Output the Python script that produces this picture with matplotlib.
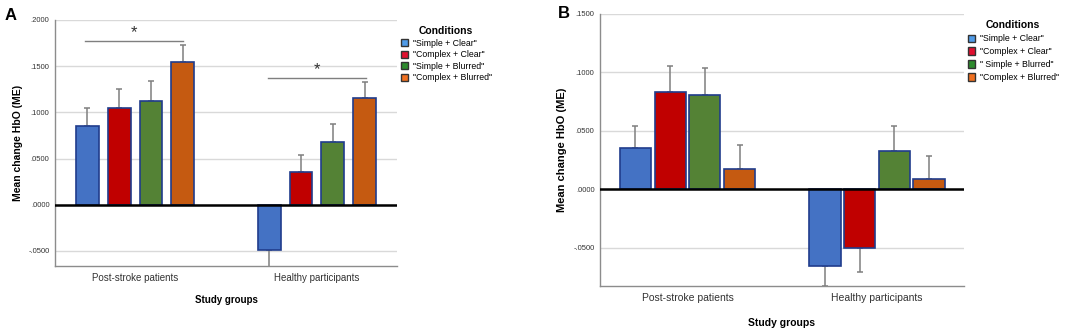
import numpy as np
import matplotlib.pyplot as plt
from matplotlib.patches import Patch
from matplotlib.ticker import FuncFormatter

plt.rcParams['font.family'] = ['Liberation Sans', 'DejaVu Sans']

groups = ["Post-stroke patients", "Healthy participants"]
labels_a = ['"Simple + Clear"', '"Complex + Clear"', '"Simple + Blurred"', '"Complex + Blurred"']
labels_b = ['"Simple + Clear"', '"Complex + Clear"', '" Simple + Blurred"', '"Complex + Blurred"']

# rows = condition, cols = group
mean_a = [[0.0848, -0.0489], [0.105, 0.0355], [0.112, 0.068], [0.154, 0.1156]]
top_a = [[0.1047, -0.0670], [0.125, 0.054], [0.1337, 0.0877], [0.173, 0.133]]
mean_b = [[0.0354, -0.0657], [0.0829, -0.0500], [0.0806, 0.0329], [0.0169, 0.0091]]
top_b = [[0.054, -0.0829], [0.1057, -0.0711], [0.1037, 0.0543], [0.038, 0.0286]]

# significance brackets in panel A: (x start, x end, y)
sig_a = [(-0.273, 0.2635, 0.1775), (0.730, 1.270, 0.1377)]

bar_colors = ['#4472c4', '#c00000', '#548235', '#c55a11']
legend_colors = ['#4f9be8', '#e0102f', '#2e8b2e', '#f07020']


def fmt(v, pos):
    s = f"{v:.4f}"
    return s.replace("0.", ".", 1)


def draw(ax, means, tops, spacing, width, ylim, yticks, xlim, fs, lpad):
    x = np.arange(len(groups))
    for i, (m, t) in enumerate(zip(means, tops)):
        xs = x + (i - 1.5) * spacing
        m = np.array(m)
        t = np.array(t)
        ax.bar(xs, m, width, color=bar_colors[i], edgecolor='#203c8c', linewidth=1.2, zorder=3)
        err = np.abs(t - m)
        lower = np.where(m < 0, err, 0)
        upper = np.where(m >= 0, err, 0)
        ax.errorbar(xs, m, yerr=[lower, upper], fmt='none', ecolor='#7f7f7f',
                    elinewidth=1.1, capsize=2.5, capthick=1.1, zorder=2)
    ax.axhline(0, color='black', lw=1.8, zorder=4)
    ax.set_ylim(*ylim)
    ax.set_xlim(*xlim)
    ax.set_yticks(yticks)
    ax.yaxis.set_major_formatter(FuncFormatter(fmt))
    ax.set_xticks(x)
    ax.set_xticklabels(groups, fontsize=fs, color='#333333')
    ax.tick_params(length=0, pad=5)
    ax.tick_params(axis='y', labelsize=5.5, labelcolor='#333333', pad=4)
    ax.grid(axis='y', color='#d9d9d9', lw=1, zorder=0)
    for s in ['top', 'right']:
        ax.spines[s].set_visible(False)
    for s in ['left', 'bottom']:
        ax.spines[s].set_color('#8c8c8c')
        ax.spines[s].set_linewidth(1)
    ax.set_ylabel("Mean change HbO (ME)", fontsize=fs + 0.5, fontweight='bold')
    ax.set_xlabel("Study groups", fontsize=fs, fontweight='bold', labelpad=lpad)


fig = plt.figure(figsize=(10.84, 3.32), dpi=100)

ax_a = fig.add_axes([55 / 1084, 66 / 332, 342 / 1084, 246 / 332])
draw(ax_a, mean_a, top_a, 0.1745, 0.125, (-0.0663, 0.2),
     [-0.05, 0, 0.05, 0.1, 0.15, 0.2], (-0.44, 1.44), 7, 9)
for x0, x1, y in sig_a:
    ax_a.plot([x0, x1], [y, y], color='#7f7f7f', lw=1, zorder=3)
    ax_a.text((x0 + x1) / 2, y + 0.001, "*", ha='center', va='bottom', fontsize=12, color='#333333')
ax_a.yaxis.set_label_coords(-0.095, 0.5)

ax_b = fig.add_axes([600 / 1084, 46 / 332, 364 / 1084, 272 / 332])
draw(ax_b, mean_b, top_b, 0.183, 0.165, (-0.0829, 0.15),
     [-0.05, 0, 0.05, 0.1, 0.15], (-0.4617, 1.459), 7.5, 11)
ax_b.yaxis.set_label_coords(-0.092, 0.5)

for ax, labels, anchor, sp in [(ax_a, labels_a, (1.0, 0.99), 0.3), (ax_b, labels_b, (1.0, 0.99), 0.45)]:
    handles = [Patch(facecolor=c, edgecolor='#333333', label=l) for c, l in zip(legend_colors, labels)]
    leg = ax.legend(handles=handles, loc='upper left', bbox_to_anchor=anchor, frameon=False,
                    title="Conditions", fontsize=6.3, handlelength=0.9, handleheight=0.9,
                    handletextpad=0.5, labelspacing=sp, borderaxespad=0)
    leg.get_title().set_fontweight('bold')
    leg.get_title().set_fontsize(7.5)

fig.text(5 / 1084, 1 - 15 / 332, "A", fontsize=12, fontweight='bold', va='center')
fig.text(558 / 1084, 1 - 14 / 332, "B", fontsize=12, fontweight='bold', va='center')

fig.savefig("out.png", dpi=100)
